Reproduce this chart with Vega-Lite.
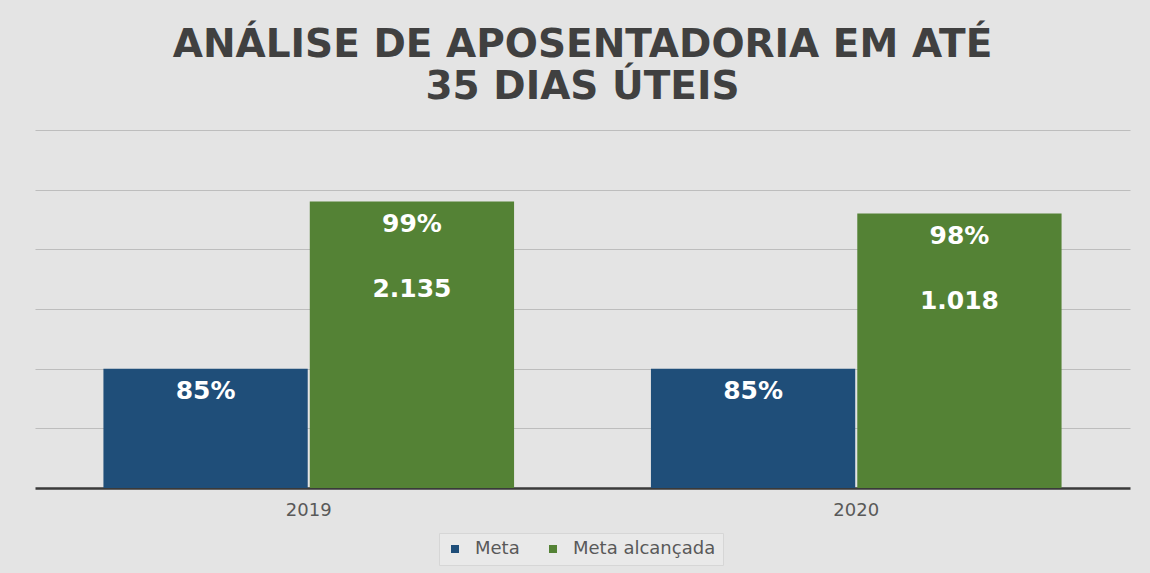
{
  "$schema": "https://vega.github.io/schema/vega-lite/v6.json",
  "width": 1095,
  "height": 358,
  "autosize": {"type": "none"},
  "padding": {"left": 35, "top": 130, "right": 20, "bottom": 85},
  "background": "#e4e4e4",
  "title": {
    "text": ["ANÁLISE DE APOSENTADORIA  EM ATÉ", "35 DIAS ÚTEIS"],
    "font": "DejaVu Sans",
    "fontSize": 39,
    "fontWeight": "bold",
    "color": "#404040",
    "lineHeight": 42,
    "anchor": "middle",
    "offset": 23
  },
  "config": {
    "view": {"stroke": null},
    "font": "DejaVu Sans"
  },
  "data": {
    "values": [
      {"ano": "2019", "serie": "Meta", "valor": 0.85, "pct": "85%", "qtd": null},
      {"ano": "2019", "serie": "Meta alcançada", "valor": 0.99, "pct": "99%", "qtd": "2.135"},
      {"ano": "2020", "serie": "Meta", "valor": 0.85, "pct": "85%", "qtd": null},
      {"ano": "2020", "serie": "Meta alcançada", "valor": 0.98, "pct": "98%", "qtd": "1.018"}
    ]
  },
  "encoding": {
    "x": {
      "field": "ano",
      "type": "nominal",
      "scale": {"paddingInner": 0.25, "paddingOuter": 0.125},
      "axis": {
        "title": null,
        "labelAngle": 0,
        "labelFont": "DejaVu Sans",
        "labelFontSize": 18,
        "labelColor": "#595959",
        "labelPadding": 13,
        "ticks": false,
        "domainColor": "#3a3a3a",
        "domainWidth": 2.5,
        "grid": false
      }
    },
    "xOffset": {
      "field": "serie",
      "type": "nominal",
      "scale": {"paddingInner": 0.01}
    },
    "y": {
      "field": "valor",
      "type": "quantitative",
      "scale": {"domain": [0.75, 1.05], "zero": false, "nice": false},
      "axis": {
        "title": null,
        "labels": false,
        "ticks": false,
        "domain": false,
        "values": [0.8, 0.85, 0.9, 0.95, 1.0, 1.05],
        "gridColor": "#bdbdbd",
        "gridWidth": 1
      }
    }
  },
  "layer": [
    {
      "mark": {"type": "bar"},
      "encoding": {
        "y2": {"datum": 0.75},
        "color": {
          "field": "serie",
          "type": "nominal",
          "scale": {"domain": ["Meta", "Meta alcançada"], "range": ["#1f4e79", "#548235"]},
          "legend": {
            "title": null,
            "orient": "none",
            "direction": "horizontal",
            "legendX": 404,
            "legendY": 403,
            "symbolType": "square",
            "symbolSize": 64,
            "symbolStrokeWidth": 0,
            "labelFont": "DejaVu Sans",
            "labelFontSize": 18,
            "labelColor": "#595959",
            "columnPadding": 24,
            "labelOffset": 11,
            "fillColor": "#e9e9e9",
            "strokeColor": "#d6d6d6",
            "padding": 7
          }
        }
      }
    },
    {
      "mark": {"type": "text", "color": "white", "fontWeight": "bold", "fontSize": 25, "font": "DejaVu Sans", "baseline": "middle", "dy": 22},
      "encoding": {"text": {"field": "pct"}}
    },
    {
      "transform": [{"filter": "datum.qtd != null"}],
      "mark": {"type": "text", "color": "white", "fontWeight": "bold", "fontSize": 25, "font": "DejaVu Sans", "baseline": "middle", "dy": 87},
      "encoding": {"text": {"field": "qtd"}}
    }
  ]
}
